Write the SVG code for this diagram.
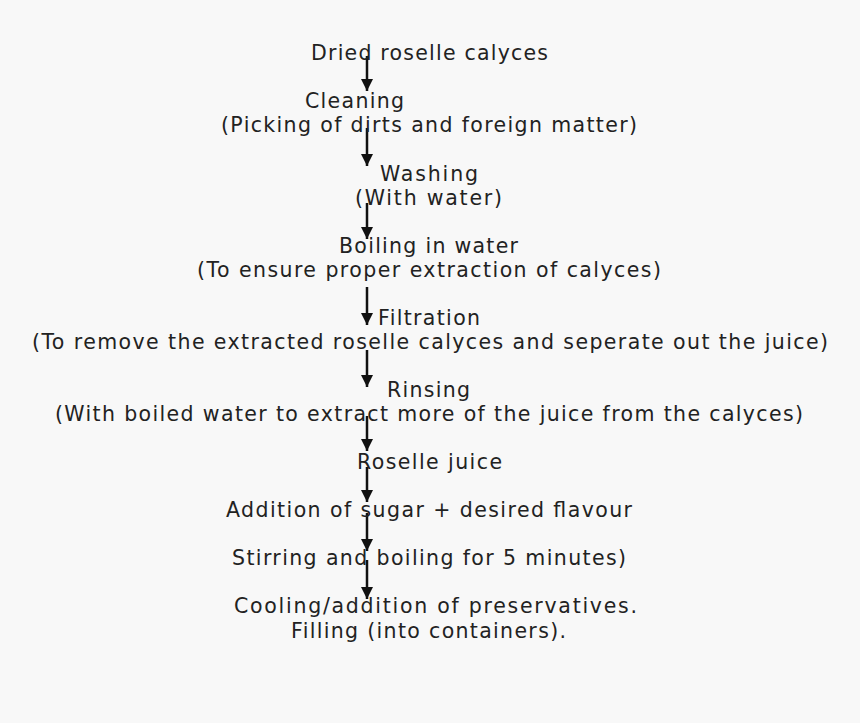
<svg xmlns="http://www.w3.org/2000/svg" width="860" height="723" viewBox="0 0 860 723">
<defs>
<style>
text{font-family:"DejaVu Sans",Verdana,sans-serif;font-size:20.5px;fill:#222;text-anchor:middle}
.c line{stroke:#111;stroke-width:2.5}
</style>
<marker id="a" viewBox="0 0 10 10" refX="10" refY="5" markerWidth="5" markerHeight="5" orient="auto" markerUnits="strokeWidth"><path d="M0,0L10,5L0,10z" fill="#111"/></marker>
</defs>
<rect width="860" height="723" fill="#f8f8f8"/>
<g class="c" id="connectors">
<line x1="367" y1="56" x2="367" y2="91" marker-end="url(#a)"/>
<line x1="367" y1="128" x2="367" y2="166" marker-end="url(#a)"/>
<line x1="367" y1="203" x2="367" y2="239" marker-end="url(#a)"/>
<line x1="367" y1="287" x2="367" y2="325" marker-end="url(#a)"/>
<line x1="367" y1="350" x2="367" y2="387" marker-end="url(#a)"/>
<line x1="367" y1="416" x2="367" y2="451" marker-end="url(#a)"/>
<line x1="367" y1="467" x2="367" y2="502" marker-end="url(#a)"/>
<line x1="367" y1="513" x2="367" y2="551" marker-end="url(#a)"/>
<line x1="367" y1="560" x2="367" y2="599" marker-end="url(#a)"/>
</g>
<g id="n1"><text x="429.5" y="60" textLength="237">Dried roselle calyces</text></g>
<g id="n2"><text x="354.5" y="108" textLength="99">Cleaning</text><text x="429" y="132" textLength="416">(Picking of dirts and foreign matter)</text></g>
<g id="n3"><text x="429" y="181" textLength="98">Washing</text><text x="428.5" y="205" textLength="147">(With water)</text></g>
<g id="n4"><text x="428.5" y="253" textLength="179">Boiling in water</text><text x="429" y="277" textLength="464">(To ensure proper extraction of calyces)</text></g>
<g id="n5"><text x="429" y="325" textLength="102">Filtration</text><text x="430" y="349" textLength="796">(To remove the extracted roselle calyces and seperate out the juice)</text></g>
<g id="n6"><text x="428.5" y="397" textLength="83">Rinsing</text><text x="429" y="421" textLength="748">(With boiled water to extract more of the juice from the calyces)</text></g>
<g id="n7"><text x="429.5" y="469" textLength="145">Roselle juice</text></g>
<g id="n8"><text x="429" y="517" textLength="406">Addition of sugar + desired flavour</text></g>
<g id="n9"><text x="429" y="565" textLength="394">Stirring and boiling for 5 minutes)</text></g>
<g id="n10"><text x="435.5" y="613" textLength="403">Cooling/addition of preservatives.</text><text x="428.5" y="638" textLength="275">Filling (into containers).</text></g>
</svg>
